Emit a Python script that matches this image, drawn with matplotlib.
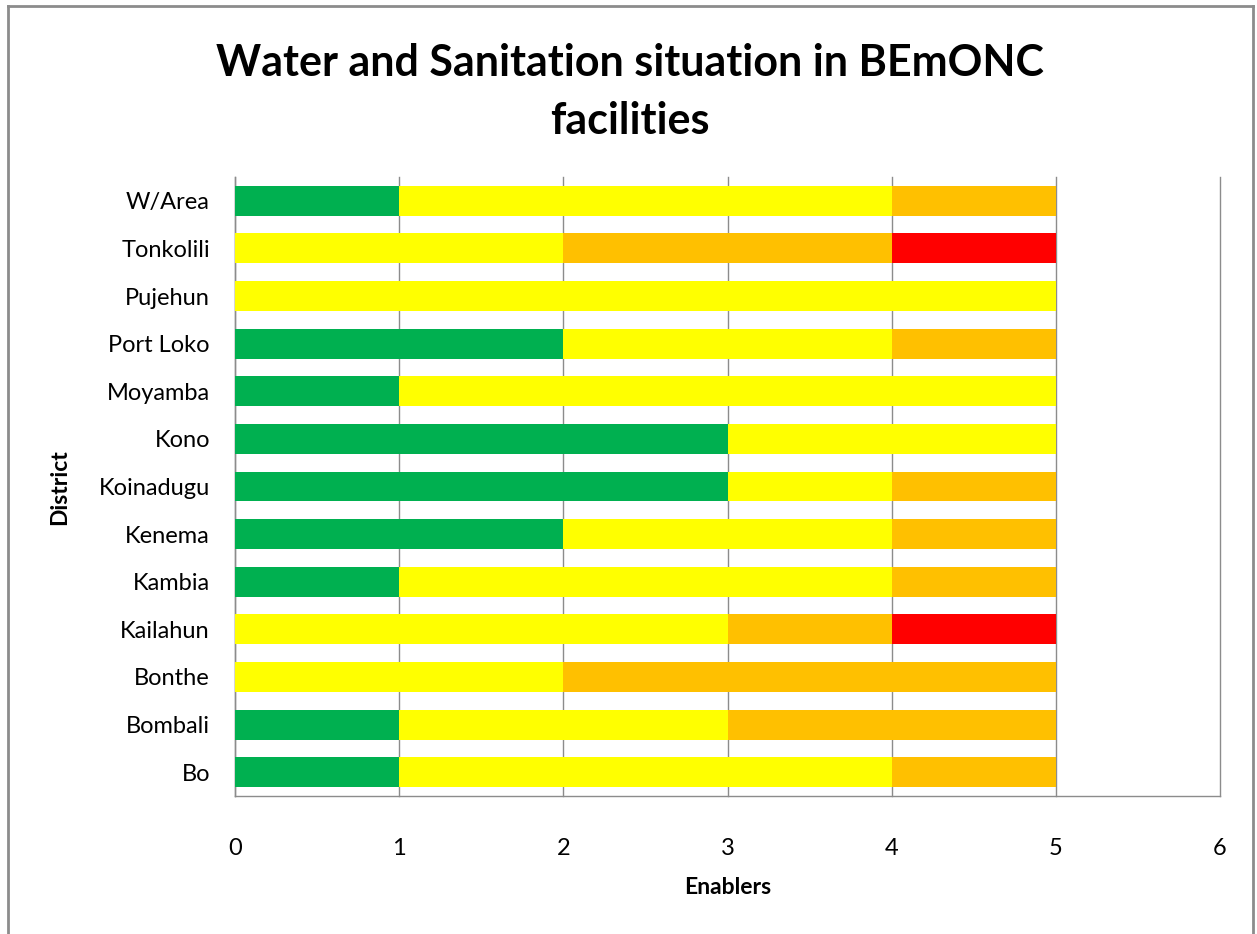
import matplotlib
matplotlib.use("Agg")
import matplotlib.pyplot as plt
from matplotlib.lines import Line2D
import numpy as np

districts = ["Bo", "Bombali", "Bonthe", "Kailahun", "Kambia", "Kenema", "Koinadugu",
             "Kono", "Moyamba", "Port Loko", "Pujehun", "Tonkolili", "W/Area"]
green  = [1, 1, 0, 0, 1, 2, 3, 3, 1, 2, 0, 0, 1]
yellow = [3, 2, 2, 3, 3, 2, 1, 2, 4, 2, 5, 2, 3]
orange = [1, 2, 3, 1, 1, 1, 1, 0, 0, 1, 0, 2, 1]
red    = [0, 0, 0, 1, 0, 0, 0, 0, 0, 0, 0, 1, 0]
series = [green, yellow, orange, red]
colors = ["#00B050", "#FFFF00", "#FFC000", "#FF0000"]
xticks = [0, 1, 2, 3, 4, 5, 6]

plt.rcParams['font.family'] = ['Lato', 'DejaVu Sans']

W, H = 1257, 934
fig = plt.figure(figsize=(W/100, H/100), dpi=100)
ax = fig.add_axes([235/W, 1-796/H, (1220-235)/W, (796-177)/H])

y = np.arange(len(districts))
left = np.zeros(len(districts))
for vals, c in zip(series, colors):
    v = np.array(vals, dtype=float)
    ax.barh(y, v, left=left, height=0.63, color=c, zorder=3, linewidth=0)
    left += v

ax.set_xlim(0, 6)
ax.set_ylim(-0.5, len(districts)-0.5)
ax.set_xticks(xticks)
ax.set_xticklabels([str(t) for t in xticks], fontsize=17)
ax.set_yticks(y)
ax.set_yticklabels(districts, fontsize=17)
ax.tick_params(axis='x', length=0, pad=30, colors='#000000')
ax.tick_params(axis='y', length=0, pad=18)
ax.xaxis.grid(True, color='#8c8c8c', linewidth=1, zorder=0)
for gl in ax.get_xgridlines():
    gl.set_clip_on(False)
ax.set_axisbelow(True)
for s in ['top', 'right']:
    ax.spines[s].set_visible(False)
for s in ['left', 'bottom']:
    ax.spines[s].set_color('#8c8c8c')
    ax.spines[s].set_linewidth(1)

fig.text(728/W, 1-888/H, "Enablers", ha='center', va='center', fontsize=16.5, fontweight='bold')
fig.text(60/W, 1-487/H, "District", ha='center', va='center', fontsize=16.5, fontweight='bold', rotation=90)
fig.text(630/W, 1-92/H, "Water and Sanitation situation in BEmONC\nfacilities", ha='center', va='center',
         fontsize=31, fontweight='bold', linespacing=1.55)

# chart border
bx0, bx1, by0 = 8/W, 1253/W, 1-6/H
fig.add_artist(Line2D([bx0, bx1], [by0, by0], color='#8c8c8c', linewidth=2, transform=fig.transFigure))
fig.add_artist(Line2D([bx0, bx0], [by0, 0], color='#8c8c8c', linewidth=2, transform=fig.transFigure))
fig.add_artist(Line2D([bx1, bx1], [by0, 0], color='#8c8c8c', linewidth=2, transform=fig.transFigure))

fig.savefig("out.png", dpi=100, facecolor='white')
